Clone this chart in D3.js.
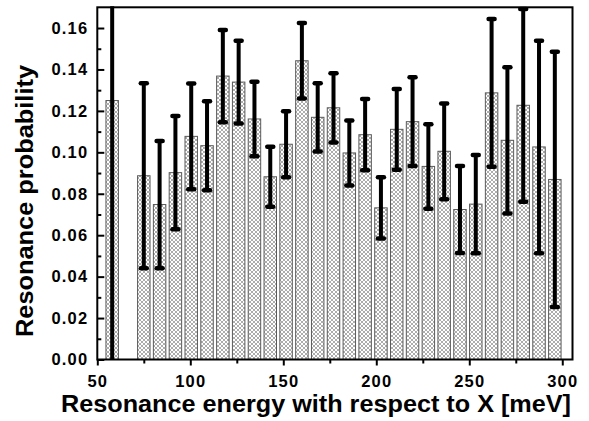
<!DOCTYPE html>
<html>
<head>
<meta charset="utf-8">
<script src="https://cdn.jsdelivr.net/npm/d3@7"></script>
<style>
  html, body { margin: 0; padding: 0; background: #fff; }
  svg { display: block; font-family: "Liberation Sans", Arial, sans-serif; }
</style>
</head>
<body>
<svg id="chart" width="589" height="421"></svg>
<script>
// ---- data ----
const energies = [58, 75, 83.5, 92, 100.5, 109, 117.5, 126, 134.5, 143, 151.5, 160, 168.5, 177,
                  185.5, 194, 202.5, 211, 219.5, 228, 236.5, 245, 253.5, 262, 270.5, 279, 287.5, 296];
const probabilities = [0.125, 0.0887, 0.0748, 0.0902, 0.1077, 0.1032, 0.1368, 0.1339, 0.1161, 0.0882,
                       0.1039, 0.1442, 0.1169, 0.1215, 0.0997, 0.1085, 0.0732, 0.1111, 0.1148, 0.0932,
                       0.1005, 0.0724, 0.0750, 0.1287, 0.1058, 0.1227, 0.1026, 0.0869];
const errors = [0.2, 0.0446, 0.0307, 0.0273, 0.0255, 0.0215, 0.0223, 0.0200, 0.0180, 0.0145,
                0.0159, 0.0182, 0.0165, 0.0167, 0.0157, 0.0172, 0.0148, 0.0195, 0.0214, 0.0204,
                0.0231, 0.0210, 0.0237, 0.0357, 0.0353, 0.0465, 0.0513, 0.0616];
const binWidth = 6.7;
const xTicks = [50, 100, 150, 200, 250, 300];
const xMinorTicks = [75, 125, 175, 225, 275];
const yTicks = [0.00, 0.02, 0.04, 0.06, 0.08, 0.10, 0.12, 0.14, 0.16];
const yMinorTicks = [0.01, 0.03, 0.05, 0.07, 0.09, 0.11, 0.13, 0.15];
const xTitle = "Resonance energy with respect to X [meV]";
const yTitle = "Resonance probability";

const data = energies.map((e, i) => ({ e, p: probabilities[i], err: errors[i] }));

// ---- layout ----
const L = 97.3, R = 572.5, T = 7.3, B = 359.5;
const svg = d3.select("#chart");
const x = d3.scaleLinear().domain([50, 305.5]).range([L, R]);
const y = d3.scaleLinear().domain([0, 0.17]).range([B, T]);

// crosshatch pattern
const defs = svg.append("defs");
const pat = defs.append("pattern").attr("id", "hatch").attr("patternUnits", "userSpaceOnUse")
  .attr("width", 4).attr("height", 4);
pat.append("rect").attr("width", 4).attr("height", 4).attr("fill", "#fff");
pat.append("path").attr("d", "M-1,-1 L5,5 M5,-1 L-1,5")
  .attr("stroke", "#8a8a8a").attr("stroke-width", 0.7).attr("fill", "none");
defs.append("clipPath").attr("id", "plotclip").append("rect")
  .attr("x", L).attr("y", T - 1).attr("width", R - L).attr("height", B - T + 1);

const plot = svg.append("g").attr("clip-path", "url(#plotclip)");

// bars
plot.selectAll("rect.bar").data(data).enter().append("rect")
  .attr("class", "bar")
  .attr("x", d => x(d.e - binWidth / 2))
  .attr("width", d => x(d.e + binWidth / 2) - x(d.e - binWidth / 2))
  .attr("y", d => y(d.p))
  .attr("height", d => y(0) - y(d.p))
  .attr("fill", "url(#hatch)")
  .attr("stroke", "#5a5a5a")
  .attr("stroke-width", 1);

// error bars
const eb = plot.selectAll("g.err").data(data).enter().append("g").attr("class", "err");
eb.append("line")
  .attr("x1", d => x(d.e)).attr("x2", d => x(d.e))
  .attr("y1", d => y(d.p - d.err)).attr("y2", d => y(d.p + d.err))
  .attr("stroke", "#000").attr("stroke-width", 4);
[1, -1].forEach(s => {
  eb.append("line")
    .attr("x1", d => x(d.e) - 3).attr("x2", d => x(d.e) + 3)
    .attr("y1", d => y(d.p + s * d.err)).attr("y2", d => y(d.p + s * d.err))
    .attr("stroke", "#000").attr("stroke-width", 4.5).attr("stroke-linecap", "round");
});

// axes
const fontSize = 16.5;
const yAxis = svg.append("g").attr("transform", `translate(${L},0)`)
  .call(d3.axisLeft(y).tickValues(yTicks).tickFormat(d3.format(".2f")).tickSizeInner(-7).tickSizeOuter(0).tickPadding(9));
const yMinor = svg.append("g").attr("transform", `translate(${L},0)`)
  .call(d3.axisLeft(y).tickValues(yMinorTicks).tickFormat("").tickSizeInner(-4).tickSizeOuter(0));
const xAxis = svg.append("g").attr("transform", `translate(0,${B})`)
  .call(d3.axisBottom(x).tickValues(xTicks).tickFormat(d3.format("d")).tickSizeInner(6).tickSizeOuter(0).tickPadding(9.5));
const xMinor = svg.append("g").attr("transform", `translate(0,${B})`)
  .call(d3.axisBottom(x).tickValues(xMinorTicks).tickFormat("").tickSizeInner(4).tickSizeOuter(0));
[yAxis, yMinor, xAxis, xMinor].forEach(g => {
  g.select(".domain").remove();
  g.selectAll(".tick line").attr("stroke", "#000").attr("stroke-width", 2);
  g.selectAll(".tick text")
    .attr("font-family", '"Liberation Sans", Arial, sans-serif')
    .attr("font-weight", "bold").attr("font-size", fontSize)
    .attr("letter-spacing", 1.2).attr("fill", "#000");
});

// frame
svg.append("rect").attr("x", L).attr("y", T).attr("width", R - L).attr("height", B - T)
  .attr("fill", "none").attr("stroke", "#000").attr("stroke-width", 2);

// titles
svg.append("text")
  .attr("x", (60 + 572) / 2).attr("y", 411.5)
  .attr("text-anchor", "middle")
  .attr("font-weight", "bold").attr("font-size", 23)
  .attr("textLength", 510).attr("lengthAdjust", "spacingAndGlyphs")
  .text(xTitle);
svg.append("text")
  .attr("transform", "translate(33,201) rotate(-90)")
  .attr("text-anchor", "middle")
  .attr("font-weight", "bold").attr("font-size", 23.5)
  .attr("textLength", 272).attr("lengthAdjust", "spacingAndGlyphs")
  .text(yTitle);
</script>
</body>
</html>
